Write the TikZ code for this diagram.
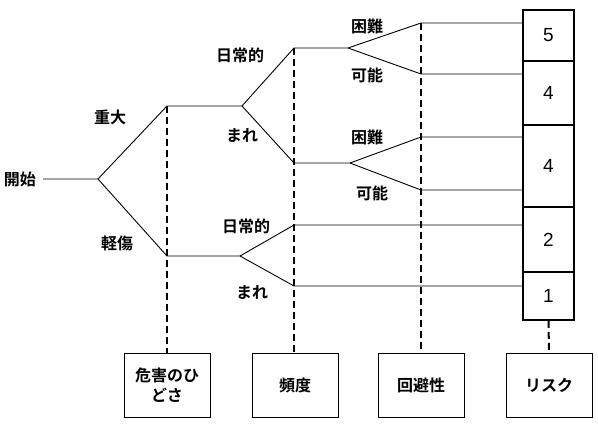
\documentclass[tikz,border=0pt]{standalone}
\usepackage{fontspec}
\newfontfamily\jp[BoldFont={Noto Sans CJK JP Bold}]{Noto Sans CJK JP}
\newfontfamily\num{Liberation Sans}
\begin{document}
\begin{tikzpicture}[x=1pt,y=-1pt,
  thin line/.style={line width=0.9pt},
  dash line/.style={line width=2pt,dash pattern=on 7pt off 4pt},
  lbl/.style={font=\jp\bfseries\fontsize{16}{18}\selectfont,inner sep=0pt},
  riskbox/.style={draw,line width=1.8pt,minimum width=51pt,inner sep=0pt,font=\num\fontsize{19}{20}\selectfont},
  catbox/.style={draw,line width=1pt,minimum width=86pt,minimum height=64pt,inner sep=0pt,align=center,font=\jp\bfseries\fontsize{16}{20}\selectfont}]
\useasboundingbox (0,0) rectangle (598,426);
% branch points
\coordinate (s) at (43,179);
\coordinate (a) at (98,179);
\coordinate (b1) at (167,106);
\coordinate (b2) at (167,256);
\coordinate (c1) at (242,106);
\coordinate (d1) at (294,48);
\coordinate (d2) at (294,163);
\coordinate (e1) at (348,48);
\coordinate (f1) at (421,23);
\coordinate (f2) at (421,74);
\coordinate (e2) at (350,163);
\coordinate (f3) at (421,137);
\coordinate (f4) at (421,190);
\coordinate (c2) at (240,256);
\coordinate (d3) at (294,225);
\coordinate (d4) at (294,286);
% risk column
\node[riskbox,minimum height=51pt] (r5) at (548.5,35.5) {5};
\node[riskbox,minimum height=64pt] (r4a) at (548.5,93) {4};
\node[riskbox,minimum height=82pt] (r4b) at (548.5,166) {4};
\node[riskbox,minimum height=65pt] (r2) at (548.5,239.5) {2};
\node[riskbox,minimum height=48pt] (r1) at (548.5,296) {1};
% bottom boxes
\node[catbox] (k1) at (167,385) {危害のひ\\どさ};
\node[catbox] (k2) at (295,385) {頻度};
\node[catbox] (k3) at (421,385) {回避性};
\node[catbox] (k4) at (549,385) {リスク};
% dashed guides
\draw[dash line] (b1) -- (b1 |- k1.north);
\draw[dash line] (d1) -- (d1 |- k2.north);
\draw[dash line] (f1) -- (f1 |- k3.north);
\draw[dash line] (r1.south) -- (k4.north);
% tree
\draw[thin line] (s) -- (a) -- (b1) -- (c1) -- (d1) -- (e1) -- (f1) -- (f1 -| r5.west);
\draw[thin line] (a) -- (b2) -- (c2) -- (d3) -- (d3 -| r2.west);
\draw[thin line] (c2) -- (d4) -- (d4 -| r1.west);
\draw[thin line] (c1) -- (d2) -- (e2) -- (f3) -- (f3 -| r4b.west);
\draw[thin line] (e2) -- (f4) -- (f4 -| r4b.west);
\draw[thin line] (e1) -- (f2) -- (f2 -| r4a.west);
% labels
\node[lbl] (l0) at (20,179) {開始};
\node[lbl] (l1) at (110,117) {重大};
\node[lbl] (l2) at (117,243) {軽傷};
\node[lbl] (l3) at (240,55) {日常的};
\node[lbl] (l4) at (242,135) {まれ};
\node[lbl] (l5) at (367,26) {困難};
\node[lbl] (l6) at (367,75) {可能};
\node[lbl] (l7) at (367,137) {困難};
\node[lbl] (l8) at (372,193) {可能};
\node[lbl] (l9) at (246,226) {日常的};
\node[lbl] (l10) at (252,292) {まれ};
\end{tikzpicture}
\end{document}
